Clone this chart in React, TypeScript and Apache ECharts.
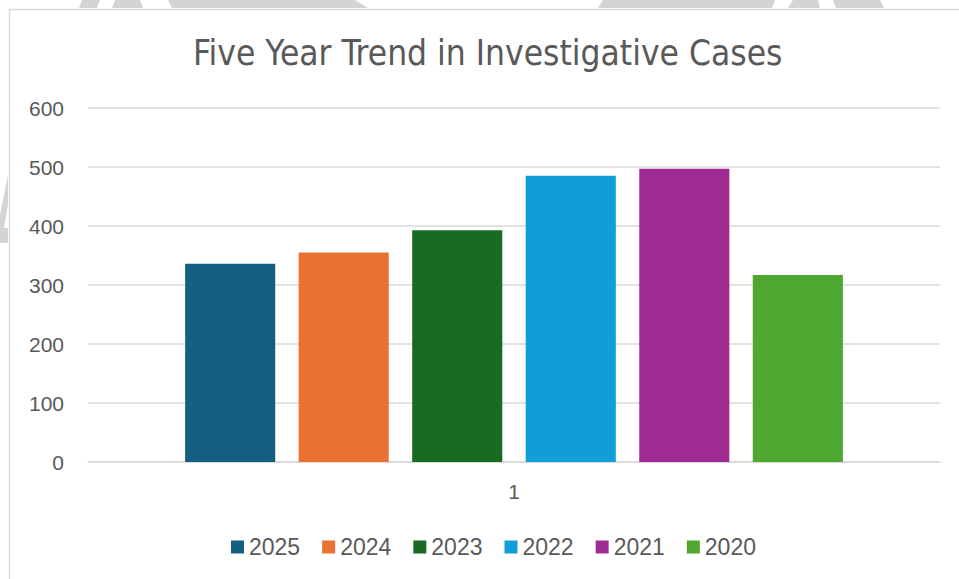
import React, { useEffect, useRef } from "react";
import * as echarts from "echarts";

const categories = ["1"];
const seriesNames = ["2025", "2024", "2023", "2022", "2021", "2020"];
const seriesValues = [336, 355, 393, 485, 497, 317];
const seriesColors = ["#156082", "#E97132", "#196B24", "#0F9ED5", "#A02B93", "#4EA72E"];
const yTicks = { min: 0, max: 600, interval: 100 };
const titleText = "Five Year Trend in Investigative Cases";

export default function App() {
  const ref = useRef<HTMLDivElement>(null);
  useEffect(() => {
    if (!ref.current) return;
    const chart = echarts.init(ref.current, undefined, { renderer: "svg" });
    const wm = "#d4d4d4";
    chart.setOption({
      animation: false,
      backgroundColor: "#ffffff",
      title: {
        text: titleText,
        left: 193,
        top: 35,
        padding: 0,
        textStyle: {
          fontFamily: "'DejaVu Sans Condensed', 'Liberation Sans Narrow', sans-serif",
          fontSize: 35,
          fontWeight: "normal",
          color: "#595959",
        },
      },
      grid: { left: 88, right: 19, top: 108, bottom: 117, containLabel: false },
      xAxis: {
        type: "category",
        data: categories,
        axisLine: { lineStyle: { color: "#d9d9d9", width: 1.5 } },
        axisTick: { show: false },
        axisLabel: { color: "#595959", fontSize: 21, margin: 19, fontFamily: "'Liberation Sans', Arial, sans-serif" },
      },
      yAxis: {
        type: "value",
        min: yTicks.min,
        max: yTicks.max,
        interval: yTicks.interval,
        axisLine: { show: false },
        axisTick: { show: false },
        splitLine: { lineStyle: { color: "#d9d9d9", width: 1.5 } },
        axisLabel: { color: "#595959", fontSize: 21, margin: 24, fontFamily: "'Liberation Sans', Arial, sans-serif" },
      },
      legend: {
        data: seriesNames,
        left: 231,
        top: 535,
        padding: 0,
        icon: "rect",
        itemWidth: 13,
        itemHeight: 13,
        itemGap: 22,
        textStyle: { color: "#595959", fontSize: 23, lineHeight: 24, fontFamily: "'Liberation Sans', Arial, sans-serif" },
      },
      graphic: [
        { type: "polygon", silent: true, shape: { points: [[82, 0], [100, 0], [97, 8], [79, 8]] }, style: { fill: wm } },
        { type: "polygon", silent: true, shape: { points: [[115, 0], [140, 0], [143, 8], [112, 8]] }, style: { fill: wm } },
        { type: "polygon", silent: true, shape: { points: [[168, 0], [355, 0], [368, 8], [172, 8]] }, style: { fill: wm } },
        { type: "polygon", silent: true, shape: { points: [[603, 0], [775, 0], [772, 8], [598, 8]] }, style: { fill: wm } },
        { type: "polygon", silent: true, shape: { points: [[793, 0], [818, 0], [820, 8], [788, 8]] }, style: { fill: wm } },
        { type: "polygon", silent: true, shape: { points: [[833, 0], [880, 0], [884, 8], [836, 8]] }, style: { fill: wm } },
        { type: "polygon", silent: true, shape: { points: [[8, 175], [8, 205], [4, 228], [0, 228], [0, 215]] }, style: { fill: wm } },
        { type: "rect", silent: true, shape: { x: 0, y: 228, width: 8, height: 15 }, style: { fill: wm } },
        {
          type: "rect",
          silent: true,
          shape: { x: 9.5, y: 9.5, width: 1000, height: 1000 },
          style: { fill: "none", stroke: "#d9d9d9", lineWidth: 1.5 },
        },
      ],
      series: seriesNames.map((name, i) => ({
        name,
        type: "bar",
        data: categories.map(() => seriesValues[i]),
        itemStyle: { color: seriesColors[i] },
        barCategoryGap: "22.8%",
        barGap: "26%",
      })),
    });
    return () => chart.dispose();
  }, []);
  return (
    <div
      ref={ref}
      style={{ position: "fixed", left: 0, top: 0, width: 959, height: 579 }}
    />
  );
}
